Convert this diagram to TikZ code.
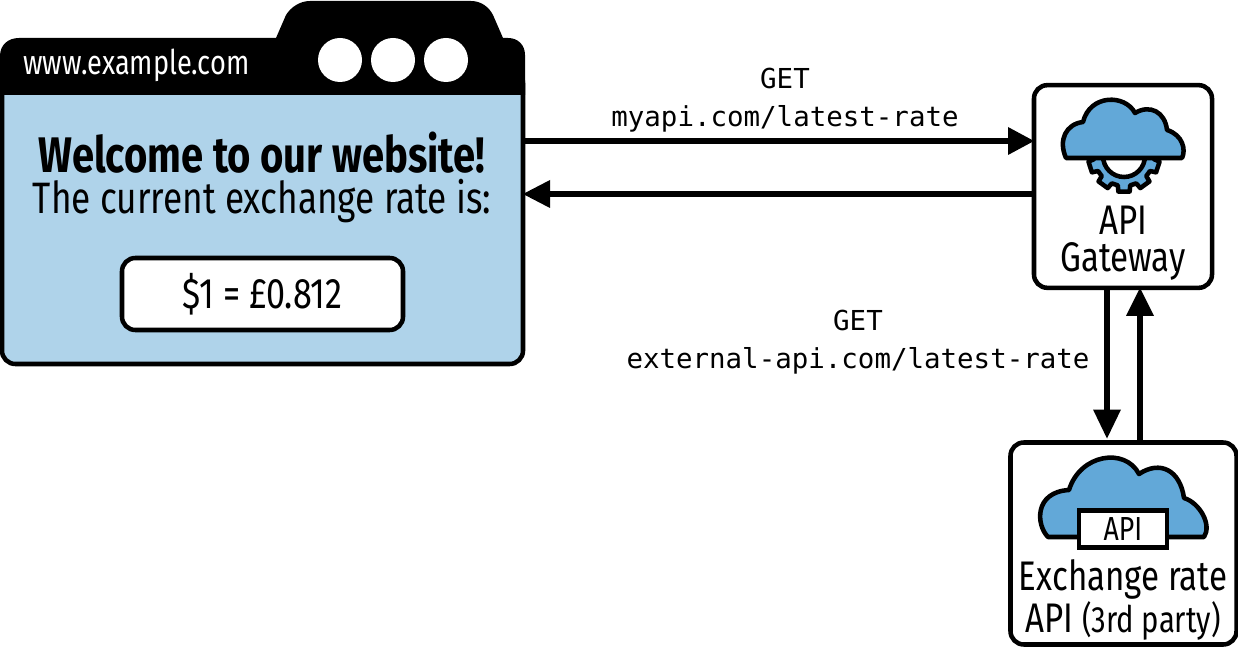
\documentclass[tikz,border=0pt]{standalone}
\usepackage{fontspec}
\setmainfont[FakeStretch=0.8]{Fira Sans}
\setmonofont{DejaVu Sans Mono}
\definecolor{bodyblue}{HTML}{AFD3EA}
\definecolor{cloudblue}{HTML}{62A8D8}

\begin{document}
\begin{tikzpicture}[
	x = 0.75pt, y = -0.75pt,
	every node/.style = {inner sep = 0pt, outer sep = 0pt, align = center},
	panel/.style = {draw, line width = 3.4pt, rounded corners = 10pt, fill = white},
	flow/.style = {line width = 5pt},
	tip/.style = {fill = black},
	outlined/.style = {draw, line width = 3.4pt, line join = round, fill = cloudblue},
	label/.style = {font = \fontsize{31}{28}\selectfont},
	code/.style = {font = \ttfamily\fontsize{20.6}{28.5}\selectfont}
]
\useasboundingbox (0,0) rectangle (1238,648);

% browser window
\node[panel, fill = bodyblue, minimum width = 390.75pt, minimum height = 220.5pt] (body) at (262.5,217) {};
\fill (0,95) -- (0,56) .. controls (0,45) and (8,38) .. (19,38) -- (276,38) -- (286,15)
	.. controls (291,7) and (300,1) .. (310,1) -- (471,1)
	.. controls (481,1) and (489,7) .. (493,15) -- (503,38) -- (508,38)
	.. controls (518,38) and (525,45) .. (525,55) -- (525,95) -- cycle;
\node[text = white, font = \fontsize{25.5}{25.5}\selectfont] (url) at (136.5,65) {www.example.com};
\foreach \name/\xpos in {dotA/340, dotB/393, dotC/446}
	\node[circle, fill = white, minimum size = 33pt] (\name) at (\xpos,60) {};
\node[font = \bfseries\fontsize{37.5}{37.5}\selectfont] (welcome) at (262,153) {Welcome to our website!};
\node[font = \fontsize{33}{33}\selectfont] (current) at (262,201) {The current exchange rate is:};
\node[panel, minimum width = 210.75pt, minimum height = 54pt] (rate) at (262.5,294) {};
\node[font = \fontsize{32}{32}\selectfont] at (rate) {\$1 = £0.812};

% gateway
\node[panel, minimum width = 133.5pt, minimum height = 152pt] (gateway) at (1123,186.5) {};
\draw[outlined] ([shift = {(1124,156)}]6:30) \foreach \a in {18,54,...,342} {
		-- ([shift = {(1124,156)}]\a-9:36) -- ([shift = {(1124,156)}]\a+9:36)
		-- ([shift = {(1124,156)}]\a+12:30) -- ([shift = {(1124,156)}]\a+24:30)
	} -- cycle;
\draw[line width = 3.4pt, fill = white] (1124,156) circle [radius = 21];
\draw[outlined] (1066,158) .. controls (1058,140) and (1066,124) .. (1083,122)
	.. controls (1090,94) and (1125,94) .. (1135,113)
	.. controls (1150,104) and (1165,112) .. (1167,130)
	.. controls (1183,135) and (1186,150) .. (1182,158) -- cycle;
\node[label] (gatewaytext) at (1123,243) {API\\Gateway};

% third party api
\node[panel, minimum width = 169.5pt, minimum height = 151.5pt] (exchange) at (1123.5,543.5) {};
\draw[outlined] (1048,537) .. controls (1036,525) and (1034,492) .. (1069,490)
	.. controls (1080,454) and (1125,447) .. (1139,474)
	.. controls (1160,460) and (1180,470) .. (1184,498)
	.. controls (1200,503) and (1212,525) .. (1204,537) -- cycle;
\node[draw, line width = 3.4pt, fill = white, minimum width = 66pt, minimum height = 28pt,
	font = \fontsize{25}{25}\selectfont] (apibox) at (1123,529) {API};
\node[label] (exchangetext) at (1123,600)
	{Exchange rate\\API {\fontsize{27.5}{28}\selectfont(3rd party)}};

% connectors
\coordinate (outA) at (body.east |- 0,141);
\coordinate (inA) at (gateway.west |- 0,141);
\coordinate (outB) at (gateway.west |- 0,194);
\coordinate (inB) at (body.east |- 0,194);
\coordinate (outC) at (gateway.south -| 1107,0);
\coordinate (inC) at (exchange.north -| 1107,0);
\coordinate (outD) at (exchange.north -| 1140,0);
\coordinate (inD) at (gateway.south -| 1140,0);
\draw[flow] (outA) -- ([xshift = -10pt]inA);
\fill[tip] (inA) -- ++(-26,-14) -- ++(0,28) -- cycle;
\draw[flow] (outB) -- ([xshift = 10pt]inB);
\fill[tip] (inB) -- ++(27,-14) -- ++(0,28) -- cycle;
\draw[flow] (outC) -- ([yshift = 13pt]inC);
\fill[tip] ([yshift = 3pt]inC) -- ++(-14,-29) -- ++(28,0) -- cycle;
\draw[flow] (outD) -- ([yshift = -10pt]inD);
\fill[tip] (inD) -- ++(-14,28) -- ++(28,0) -- cycle;

\node[code] (getA) at (785,100) {GET\\myapi.com/latest-rate};
\node[code] (getB) at (858,342) {GET\\external-api.com/latest-rate};
\end{tikzpicture}
\end{document}
